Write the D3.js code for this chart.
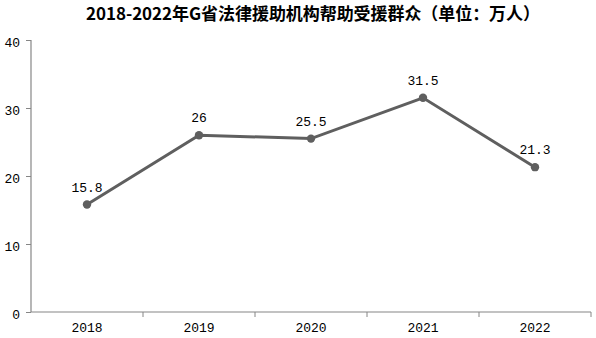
<!DOCTYPE html>
<html><head><meta charset="utf-8">
<script src="https://cdn.jsdelivr.net/npm/d3@7"></script>
<style>body{margin:0;background:#fff}svg{display:block}</style>
</head><body>
<script>
const title = "2018-2022年G省法律援助机构帮助受援群众（单位：万人）";
const years = ["2018","2019","2020","2021","2022"];
const values = [15.8, 26, 25.5, 31.5, 21.3];
const yTicks = [0,10,20,30,40];

const W=596,H=338;
const svg=d3.select("body").append("svg").attr("width",W).attr("height",H);
const x=d3.scaleBand().domain(years).range([31,591]);
const y=d3.scaleLinear().domain([0,40]).range([312,40]);
const numFont="'Liberation Mono','DejaVu Sans Mono',monospace";

svg.append("text").attr("x",313).attr("y",20).attr("text-anchor","middle")
  .attr("font-family","'Noto Sans CJK SC',serif").attr("font-weight","bold")
  .attr("font-size",17).attr("fill","#000")
  .attr("textLength",454).attr("lengthAdjust","spacing").text(title);

const yAxis=svg.append("g").attr("transform","translate(31,0)")
  .call(d3.axisLeft(y).tickValues(yTicks).tickSize(5).tickPadding(6).tickFormat(d3.format("d")));
const xAxis=svg.append("g").attr("transform","translate(0,312)")
  .call(d3.axisBottom(x).tickSize(0).tickPadding(11));
xAxis.selectAll(".bt").data(years).enter().append("line")
  .attr("x1",d=>x(d)+x.bandwidth()).attr("x2",d=>x(d)+x.bandwidth())
  .attr("y1",0).attr("y2",5).attr("stroke","#868686");
[yAxis,xAxis].forEach(g=>{
  g.select(".domain").attr("stroke","#868686").attr("stroke-width",1.2);
  g.selectAll(".tick line").attr("stroke","#868686");
  g.selectAll("text").attr("font-family",numFont).attr("font-size",13).attr("fill","#000");
});
yAxis.selectAll(".tick text").attr("dy","0.5em");
yAxis.select(".domain").attr("d","M0,40V312");
xAxis.select(".domain").attr("d","M31,0H591");

const cx=d=>x(d)+x.bandwidth()/2;
const line=d3.line().x((d,i)=>cx(years[i])).y(d=>y(d));
svg.append("path").datum(values).attr("d",line).attr("fill","none")
  .attr("stroke","#5f5f5f").attr("stroke-width",3);
svg.selectAll(".pt").data(values).enter().append("circle")
  .attr("cx",(d,i)=>cx(years[i])).attr("cy",d=>y(d)).attr("r",4.2).attr("fill","#5f5f5f");
svg.selectAll(".lbl").data(values).enter().append("text")
  .attr("x",(d,i)=>cx(years[i])).attr("y",d=>y(d)-13).attr("text-anchor","middle")
  .attr("font-family",numFont).attr("font-size",13).attr("fill","#000")
  .text(d=>String(d));
</script>
</body></html>
